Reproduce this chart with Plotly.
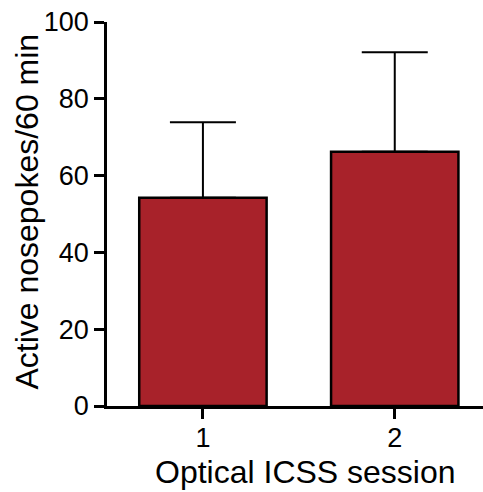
import plotly.graph_objects as go

# Session data: mean active nosepokes and SEM
sessions = [1, 2]
mean_pokes = [54.2, 66.2]
sem_pokes = [19.7, 25.9]
y_ticks = [0, 20, 40, 60, 80, 100]

x_title = "Optical ICSS session"
y_title = "Active nosepokes/60 min"

font_family = "Liberation Sans, Arial, sans-serif"

fig = go.Figure()
fig.add_trace(go.Bar(
    x=sessions,
    y=mean_pokes,
    width=0.664,
    marker=dict(color="#A8222A", line=dict(color="black", width=2.5)),
    error_y=dict(type="data", array=sem_pokes, arrayminus=[0] * len(sem_pokes),
                 symmetric=False, color="black", thickness=2, width=33),
))

axis_style = dict(
    ticks="outside", ticklen=10, tickwidth=2.5, tickcolor="black",
    tickfont=dict(size=27),
    showline=True, linecolor="black", linewidth=2.5,
    showgrid=False, zeroline=False,
)

fig.update_layout(
    width=483, height=492,
    margin=dict(l=107, r=0, t=22, b=86),
    paper_bgcolor="white", plot_bgcolor="white",
    showlegend=False,
    font=dict(family=font_family, size=27, color="black"),
    xaxis=dict(range=[0.5, 2.46], tickvals=sessions,
               ticktext=[str(s) for s in sessions],
               ticklabelstandoff=-4, **axis_style),
    yaxis=dict(range=[0, 100], tickvals=y_ticks, **axis_style),
    annotations=[
        dict(text=x_title, xref="paper", yref="paper", x=0.528, y=-0.172,
             xanchor="center", yanchor="middle", showarrow=False,
             font=dict(size=32)),
        dict(text=y_title, xref="paper", yref="paper", x=-0.213, y=0.506,
             xanchor="center", yanchor="middle", textangle=-90, showarrow=False,
             font=dict(size=32)),
    ],
)

fig.write_html("out.html")
